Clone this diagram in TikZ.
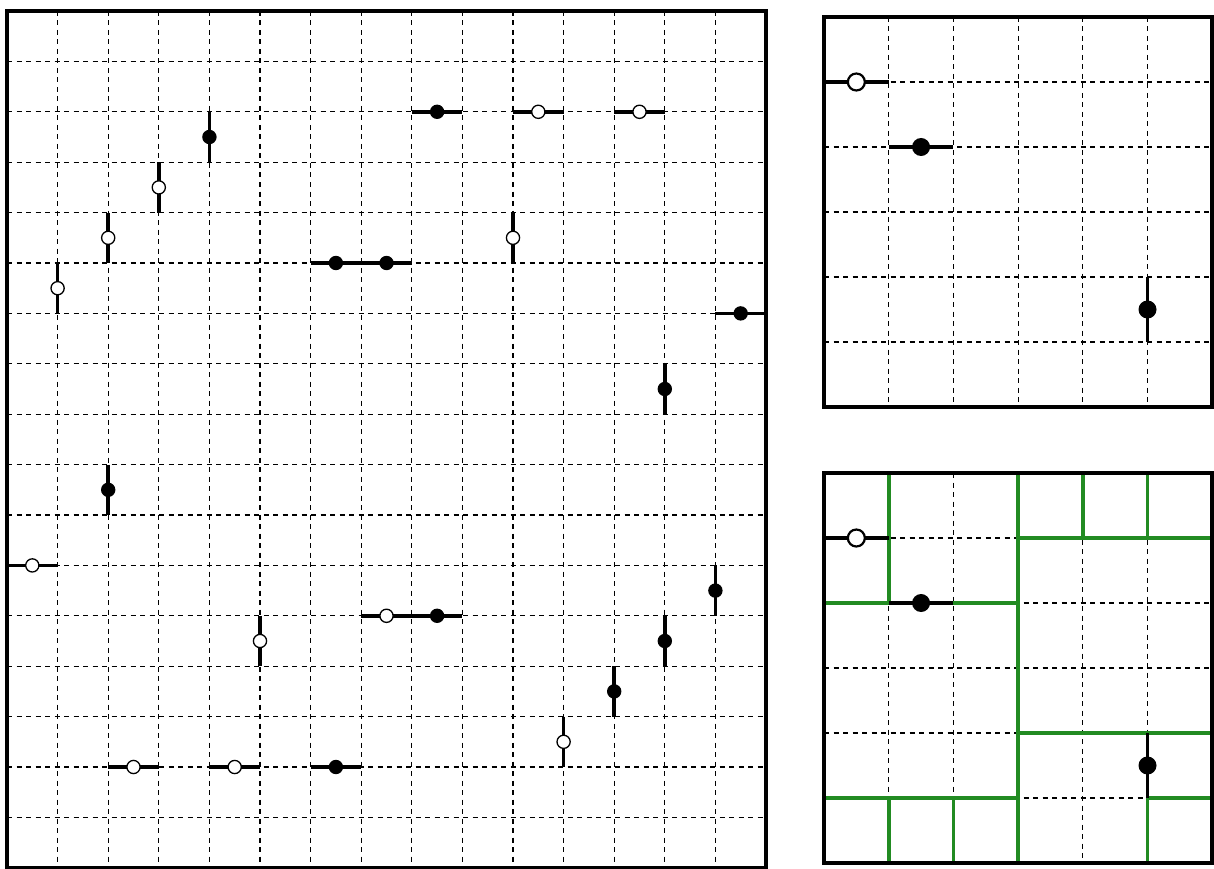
\documentclass[tikz,border=0pt]{standalone}
\definecolor{fgreen}{RGB}{34,139,34}
\tikzset{
  gridline/.style={black, line width=1.1pt, dash pattern=on 5pt off 4.5pt},
  frame/.style={black, line width=3.6pt},
  seg/.style={black, line width=3.5pt},
  fdotL/.style={fill=black, draw=none},
  odotL/.style={fill=white, draw=black, line width=1.3pt},
  fdotR/.style={fill=black, draw=none},
  odotR/.style={fill=white, draw=black, line width=2.2pt},
  gline/.style={draw=fgreen, line width=3.6pt}
}
% vertical / horizontal segment with dot in the left panel
\newcommand{\vsegF}[2]{\draw[seg] (#1,#2) -- (#1,#2+1); \fill[fdotL] (#1,#2+0.5) circle[radius=7.2pt];}
\newcommand{\vsegO}[2]{\draw[seg] (#1,#2) -- (#1,#2+1); \filldraw[odotL] (#1,#2+0.5) circle[radius=6.6pt];}
\newcommand{\hsegF}[2]{\draw[seg] (#1,#2) -- (#1+1,#2); \fill[fdotL] (#1+0.5,#2) circle[radius=7.2pt];}
\newcommand{\hsegO}[2]{\draw[seg] (#1,#2) -- (#1+1,#2); \filldraw[odotL] (#1+0.5,#2) circle[radius=6.6pt];}
\begin{document}
\begin{tikzpicture}[x=1pt,y=-1pt]
\useasboundingbox (0,0) rectangle (1214,869);
\fill[white] (0,0) rectangle (1214,869);

% ---------------- left panel ----------------
\begin{scope}[shift={(7pt,-11pt)}, x=50.6pt, y=-50.4pt]
  \foreach \i in {1,...,14} \draw[gridline] (\i,0) -- (\i,17);
  \foreach \j in {1,...,16} \draw[gridline] (0,\j) -- (15,\j);
  \vsegF{4}{2}
  \vsegO{3}{3}
  \vsegO{2}{4}
  \vsegO{1}{5}
  \hsegF{8}{2}
  \hsegO{10}{2}
  \hsegO{12}{2}
  \hsegF{6}{5}
  \hsegF{7}{5}
  \vsegO{10}{4}
  \hsegF{14}{6}
  \vsegF{13}{7}
  \vsegF{2}{9}
  \hsegO{0}{11}
  \hsegO{7}{12}
  \hsegF{8}{12}
  \vsegO{5}{12}
  \vsegF{14}{11}
  \vsegF{13}{12}
  \vsegF{12}{13}
  \vsegO{11}{14}
  \hsegO{2}{15}
  \hsegO{4}{15}
  \hsegF{6}{15}
  \draw[frame] (0,0) rectangle (15,17);
\end{scope}

% ---------------- right top panel ----------------
\begin{scope}[shift={(824pt,-17pt)}, x=64.7pt, y=-65pt]
  \foreach \i in {1,...,5} \draw[gridline] (\i,0) -- (\i,6);
  \foreach \j in {1,...,5} \draw[gridline] (0,\j) -- (6,\j);
  \draw[seg] (0,1) -- (1,1);
  \filldraw[odotR] (0.5,1) circle[radius=8.5pt];
  \draw[seg] (1,2) -- (2,2);
  \fill[fdotR] (1.5,2) circle[radius=9pt];
  \draw[seg] (5,4) -- (5,5);
  \fill[fdotR] (5,4.5) circle[radius=9pt];
  \draw[frame] (0,0) rectangle (6,6);
\end{scope}

% ---------------- right bottom panel ----------------
\begin{scope}[shift={(824pt,-473pt)}, x=64.7pt, y=-65pt]
  \foreach \i in {1,...,5} \draw[gridline] (\i,0) -- (\i,6);
  \foreach \j in {1,...,5} \draw[gridline] (0,\j) -- (6,\j);
  \draw[gline] (1,0) -- (1,2);
  \draw[gline] (0,2) -- (1,2);
  \draw[gline] (2,2) -- (3,2);
  \draw[gline] (3,0) -- (3,6);
  \draw[gline] (4,0) -- (4,1);
  \draw[gline] (5,0) -- (5,1);
  \draw[gline] (3,1) -- (6,1);
  \draw[gline] (3,4) -- (6,4);
  \draw[gline] (0,5) -- (3,5);
  \draw[gline] (5,5) -- (6,5);
  \draw[gline] (1,5) -- (1,6);
  \draw[gline] (2,5) -- (2,6);
  \draw[gline] (5,5) -- (5,6);
  \draw[seg] (0,1) -- (1,1);
  \filldraw[odotR] (0.5,1) circle[radius=8.5pt];
  \draw[seg] (1,2) -- (2,2);
  \fill[fdotR] (1.5,2) circle[radius=9pt];
  \draw[seg] (5,4) -- (5,5);
  \fill[fdotR] (5,4.5) circle[radius=9pt];
  \draw[frame] (0,0) rectangle (6,6);
\end{scope}
\end{tikzpicture}
\end{document}
